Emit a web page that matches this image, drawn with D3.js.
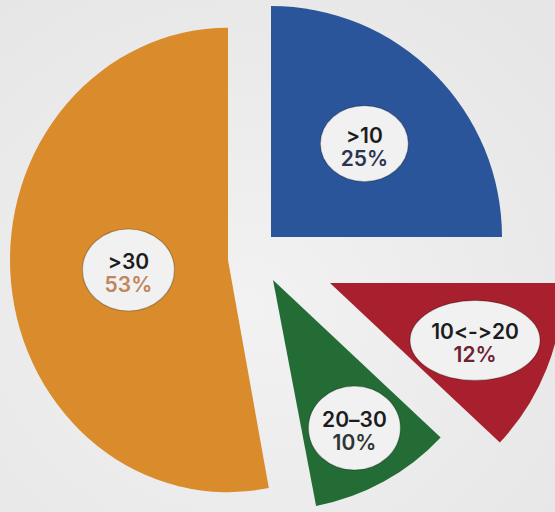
<!DOCTYPE html>
<html>
<head>
<meta charset="utf-8">
<script src="https://cdn.jsdelivr.net/npm/d3@7"></script>
<style>
  html, body { margin: 0; padding: 0; background: #ededed; }
  svg { display: block; }
  .lbl { font-family: Inter, 'Open Sans', sans-serif; font-weight: 600; font-size: 21px;
         font-feature-settings: "calt" 0, "liga" 0; font-variant-ligatures: none; }
</style>
</head>
<body>
<svg id="chart" width="555" height="512"></svg>
<script>
// data, clockwise from 12 o'clock
const categories = [">10", "10<->20", "20–30", ">30"];
const shares = [25, 12, 10, 53];
const sliceColors = ["#2b559a", "#a81f2e", "#246c36", "#da8b2c"];
const pctColors = ["#2b3550", "#6e2234", "#2f3533", "#c0855a"];

// layout of the exploded slices (apex position, radius, y-stretch) and labels
const apex = [[271, 237], [330, 283], [273, 280], [228, 260]];
const radius = [231, 233, 230, 218];
const stretchY = [1, 1, 1, 1.065];
const labelDist = [132, 156, 169, 100];
const labelR = [[44, 38], [65, 40], [46, 42], [46, 41]];

const svg = d3.select("#chart");
const W = 555, H = 512;

// soft background like the photo
const defs = svg.append("defs");
const bg = defs.append("radialGradient").attr("id", "bg")
    .attr("cx", "45%").attr("cy", "60%").attr("r", "75%");
bg.append("stop").attr("offset", "0%").attr("stop-color", "#f2f2f2");
bg.append("stop").attr("offset", "100%").attr("stop-color", "#e6e6e6");
svg.append("rect").attr("width", W).attr("height", H).attr("fill", "url(#bg)");

const pie = d3.pie().sort(null).value(d => d)(shares);

const slices = svg.selectAll("g.slice")
    .data(pie)
    .enter()
    .append("g")
    .attr("class", "slice")
    .attr("transform", (d, i) => `translate(${apex[i][0]},${apex[i][1]})`);

slices.append("path")
    .attr("transform", (d, i) => `scale(1,${stretchY[i]})`)
    .attr("d", (d, i) => d3.arc().innerRadius(0).outerRadius(radius[i])(d))
    .attr("fill", (d, i) => sliceColors[i]);

// labels in white ovals
const labels = slices.append("g")
    .attr("transform", (d, i) => {
        const a = (d.startAngle + d.endAngle) / 2;
        const x = Math.sin(a) * labelDist[i];
        const y = -Math.cos(a) * labelDist[i] * stretchY[i];
        return `translate(${x},${y})`;
    });

labels.append("ellipse")
    .attr("rx", (d, i) => labelR[i][0])
    .attr("ry", (d, i) => labelR[i][1])
    .attr("fill", "#f1f1f1")
    .attr("stroke", "rgba(0,0,0,0.25)")
    .attr("stroke-width", 1.2);

// category and share in one text, two lines
const txt = labels.append("text")
    .attr("class", "lbl")
    .attr("text-anchor", "middle")
    .attr("y", -1);

txt.append("tspan")
    .attr("x", 0)
    .attr("fill", "#1c1c1e")
    .text((d, i) => categories[i]);

txt.append("tspan")
    .attr("x", 0)
    .attr("dy", 23)
    .attr("fill", (d, i) => pctColors[i])
    .text((d, i) => d.data + "%");
</script>
</body>
</html>
